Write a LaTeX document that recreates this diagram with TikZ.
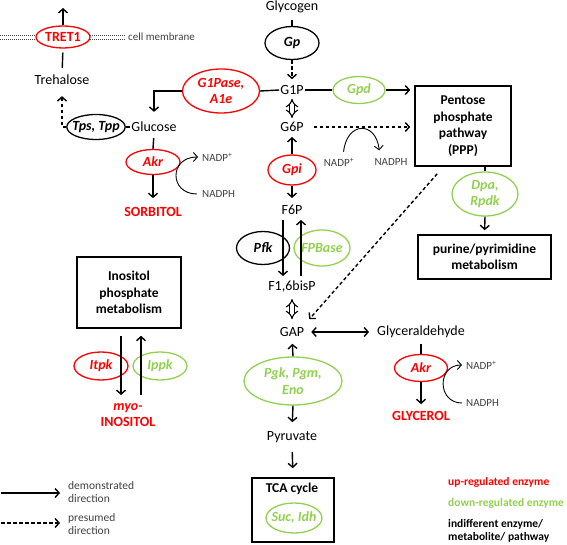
\documentclass[tikz,border=0pt]{standalone}
\usepackage{fontspec}
\setmainfont{Carlito}
\usetikzlibrary{arrows.meta}
\usetikzlibrary{shapes.geometric}
\tikzset{>={Straight Barb[length=4pt,width=9pt]}}
\definecolor{upred}{RGB}{255,0,0}
\definecolor{downgreen}{RGB}{146,208,80}
\definecolor{cofgray}{RGB}{64,64,64}
\tikzstyle{metab}=[font=\fontsize{14}{16.5}\selectfont,inner sep=1pt]
\tikzstyle{endprod}=[metab,font=\fontsize{14}{16.5}\selectfont\bfseries,text=upred,align=center]
\tikzstyle{enzyme}=[ellipse,draw,line width=1.3pt,inner sep=-3pt,align=center,font=\fontsize{14}{16.5}\selectfont\bfseries\itshape]
\tikzstyle{enzup}=[enzyme,draw=upred,text=upred]
\tikzstyle{enzdown}=[enzyme,draw=downgreen,text=downgreen]
\tikzstyle{pathbox}=[draw,line width=1.6pt,align=center,inner sep=0pt,font=\fontsize{13.5}{16.5}\selectfont\bfseries]
\tikzstyle{cofactor}=[font=\fontsize{11}{13}\selectfont,text=cofgray,inner sep=1pt]
\tikzstyle{legendtext}=[font=\fontsize{11.5}{13}\selectfont\bfseries,anchor=west,align=left,inner sep=0pt]
\tikzstyle{flowline}=[line width=1.4pt]
\tikzstyle{presumed}=[flowline,dash pattern=on 3.5pt off 2.5pt]
\tikzstyle{bothways}=[double,double distance=3.2pt,line width=1.1pt,{Implies[scale=1.7]}-{Implies[scale=1.7]}]
\tikzstyle{cofcurve}=[line width=0.9pt,->]
\tikzstyle{membraneline}=[line width=1.6pt,cofgray,dash pattern=on 1pt off 1pt]

\begin{document}
\begin{tikzpicture}[x=1pt,y=-1pt]
  \useasboundingbox (0,0) rectangle (567,545);
  % metabolites
  \node[metab] (glycogen) at (292,7) {Glycogen};
  \node[metab] (g1p) at (292,90) {G1P};
  \node[metab] (g6p) at (292,127) {G6P};
  \node[metab] (f6p) at (292,210) {F6P};
  \node[metab] (f16) at (292,287) {F1,6bisP};
  \node[metab] (gap) at (292,332) {GAP};
  \node[metab] (glyald) at (421,332) {Glyceraldehyde};
  \node[metab] (pyr) at (292,437) {Pyruvate};
  \node[metab] (glucose) at (154,127) {Glucose};
  \node[metab] (trehalose) at (62,80) {Trehalose};
  \node[endprod] (sorbitol) at (153,212) {SORBITOL};
  \node[endprod] (glycerol) at (421,416) {GLYCEROL};
  \node[endprod] (inositol) at (128,415) {\textit{myo-}\\INOSITOL};
  % enzymes
  \node[enzyme,minimum width=54pt,minimum height=33pt] (gp) at (292,43) {Gp};
  \node[enzup,minimum width=77pt,minimum height=44pt] (g1pase) at (221,91) {G1Pase,\\A1e};
  \node[enzyme,minimum width=56pt,minimum height=25pt] (tps) at (96,127) {Tps, Tpp};
  \node[enzup,minimum width=54pt,minimum height=22pt,font=\fontsize{14}{16.5}\selectfont\bfseries] (tret) at (63,37) {TRET1};
  \node[enzup,minimum width=54pt,minimum height=25pt] (akrl) at (153,162) {Akr};
  \node[enzdown,minimum width=52pt,minimum height=27pt] (gpd) at (359,90) {Gpd};
  \node[enzup,minimum width=48pt,minimum height=30pt] (gpi) at (292,170) {Gpi};
  \node[enzyme,minimum width=53pt,minimum height=33pt] (pfk) at (263,248) {Pfk};
  \node[enzdown,minimum width=56pt,minimum height=36pt] (fpbase) at (322,248) {FPBase};
  \node[enzdown,minimum width=66pt,minimum height=44pt] (dpa) at (485,194) {Dpa,\\Rpdk};
  \node[enzup,minimum width=54pt,minimum height=28pt] (itpk) at (101,366) {Itpk};
  \node[enzdown,minimum width=54pt,minimum height=28pt] (ippk) at (160,366) {Ippk};
  \node[enzdown,minimum width=98pt,minimum height=48pt] (pgk) at (293,381) {Pgk, Pgm,\\Eno};
  \node[enzup,minimum width=53pt,minimum height=27pt] (akrr) at (421,368) {Akr};
  % pathways
  \node[pathbox,minimum width=96pt,minimum height=80pt] (ppp) at (463,126) {Pentose\\phosphate\\pathway\\(PPP)};
  \node[pathbox,minimum width=133pt,minimum height=44pt] (purine) at (484.5,257) {purine/pyrimidine\\metabolism};
  \node[pathbox,minimum width=104pt,minimum height=71pt] (inos) at (129,292.5) {Inositol\\phosphate\\metabolism};
  \node[pathbox,minimum width=82pt,minimum height=64pt] (tca) at (293,510) {};
  \node[pathbox,draw=none] (tcatitle) at (292,489) {TCA cycle};
  \node[enzdown,minimum width=56pt,minimum height=30pt] (suc) at (294,518) {Suc, Idh};
  % cofactors
  \node[cofactor,anchor=west] (nadpl) at (201,157) {NADP\textsuperscript{+}};
  \node[cofactor,anchor=west] (nadphl) at (201,194) {NADPH};
  \node[cofactor] (nadpm) at (339,162) {NADP\textsuperscript{+}};
  \node[cofactor] (nadphm) at (391,162) {NADPH};
  \node[cofactor,anchor=west] (nadpr) at (465,365) {NADP\textsuperscript{+}};
  \node[cofactor,anchor=west] (nadphr) at (465,403) {NADPH};
  \node[cofactor,anchor=west] (membrane) at (127,37) {cell membrane};
  \coordinate (tretout) at (63,8);
  \draw[membraneline] (0,35.5) -- (36,35.5) (0,39.5) -- (36,39.5) (90,35.5) -- (125,35.5) (90,39.5) -- (125,39.5);

  \draw[flowline,shorten <=6pt] (glycogen.south) -- (gp.north);
  \draw[presumed,->,shorten >=5pt] (gp.south) -- (g1p.north);
  \draw[flowline] (g1p.west) -- (g1pase.east);
  \draw[flowline,->,shorten >=9pt] (g1pase.west) -| (glucose.north);
  \draw[flowline] (glucose.west) -- (tps.east);
  \draw[presumed,->,shorten >=10pt] (tps.west) -| (trehalose.south);
  \draw[flowline,shorten <=6pt,shorten >=4pt] (trehalose.north) -- (tret.south);
  \draw[flowline,->] (tret.north) -- (tretout);
  \draw[flowline,shorten <=5pt] (glucose.south) -- (akrl.north);
  \draw[flowline,->,shorten >=8pt] (akrl.south) -- (sorbitol.north);
  \draw[cofcurve,shorten <=4pt,shorten >=3pt] (nadphl.west) .. controls (169,194) and (169,157) .. (nadpl.west);
  \draw[bothways,shorten <=3pt,shorten >=3pt] (g1p.south) -- (g6p.north);
  \draw[flowline,->,shorten >=4pt] (gpi.north) -- (g6p.south);
  \draw[flowline,->,shorten >=6pt] (gpi.south) -- (f6p.north);
  \draw[flowline,->,shorten <=4pt,shorten >=4pt] ([xshift=-9pt]f6p.south) -- ([xshift=-9pt]f16.north);
  \draw[flowline,->,shorten <=4pt,shorten >=4pt] ([xshift=9pt]f16.north) -- ([xshift=9pt]f6p.south);
  \draw[bothways,shorten <=5pt,shorten >=7pt] (f16.south) -- (gap.north);
  \draw[flowline,<->,shorten <=6pt,shorten >=7pt] (gap.east) -- (glyald.west);
  \draw[presumed,->] ([xshift=23pt,yshift=-7pt]ppp.south west) -- ([xshift=4pt,yshift=7pt]gap.north east);
  \draw[presumed,->,shorten <=9pt,shorten >=4pt] (g6p.east) -- (g6p.east -| ppp.west);
  \draw[cofcurve,shorten <=5pt,shorten >=7pt] ([xshift=4pt]nadpm.north) .. controls (347,121) and (376,121) .. ([xshift=-11pt]nadphm.north);
  \draw[flowline] (g1p.east) -- (gpd.west);
  \draw[flowline,->,shorten >=4pt] (gpd.east) -- (gpd.east -| ppp.west);
  \draw[flowline] (dpa.north |- ppp.south) -- (dpa.north);
  \draw[flowline,->,shorten >=4pt] (dpa.south) -- (purine.north);
  \draw[flowline,shorten <=5pt] (glyald.south) -- (akrr.north);
  \draw[flowline,->,shorten >=6pt] (akrr.south) -- (glycerol.north);
  \draw[cofcurve,shorten <=3pt,shorten >=3pt] (nadphr.west) .. controls (437,403) and (437,365) .. (nadpr.west);
  \draw[flowline,->,shorten >=6pt] (pgk.north) -- (gap.south);
  \draw[flowline,->,shorten >=8pt] (pgk.south) -- (pyr.north);
  \draw[flowline,->,shorten <=8pt,shorten >=9pt] (pyr.south) -- (tca.north);
  \draw[flowline,->,shorten <=7pt,shorten >=7pt] ([xshift=-8pt]inos.south) -- ([xshift=-7pt]inositol.north);
  \draw[flowline,->,shorten <=7pt,shorten >=7pt] ([xshift=13pt]inositol.north) -- ([xshift=12pt]inos.south);

  % legend
  \coordinate (demo0) at (1,493);
  \coordinate (demo1) at (60,493);
  \coordinate (pres0) at (1,523);
  \coordinate (pres1) at (60,523);
  \draw[flowline,->] (demo0) -- (demo1);
  \draw[presumed,->] (pres0) -- (pres1);
  \node[cofactor,anchor=west,align=left,font=\fontsize{11.5}{13}\selectfont] (demotext) at (67,492.5) {demonstrated\\direction};
  \node[cofactor,anchor=west,align=left,font=\fontsize{11.5}{13}\selectfont] (prestext) at (67,524.5) {presumed\\direction};
  \node[legendtext,text=upred] (legup) at (448,482) {up-regulated enzyme};
  \node[legendtext,text=downgreen] (legdown) at (448,503) {down-regulated enzyme};
  \node[legendtext] (legind) at (448,530.5) {indifferent enzyme/\\metabolite/ pathway};
\end{tikzpicture}
\end{document}
